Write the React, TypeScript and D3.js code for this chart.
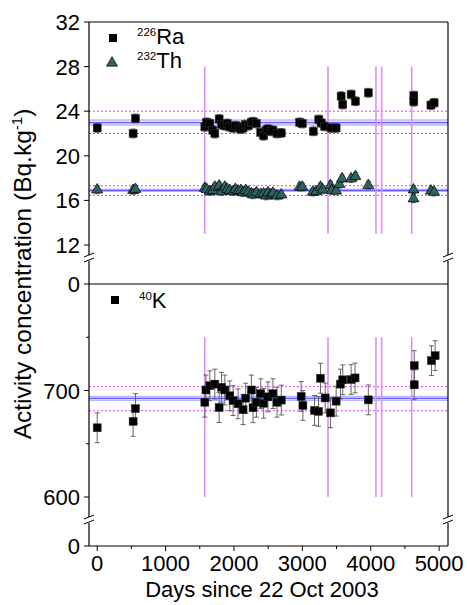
import React from 'react';
import * as d3 from 'd3';

// 226Ra
const raDays = [0, 525, 559, 1574, 1600, 1647, 1690, 1720, 1783, 1818, 1866, 1900, 1939, 1987, 2020, 2060, 2100, 2133, 2172, 2210, 2255, 2279, 2328, 2391, 2434, 2470, 2497, 2540, 2570, 2629, 2692, 2960, 3000, 3160, 3240, 3275, 3325, 3420, 3494, 3567, 3591, 3713, 3776, 3965, 4630, 4630, 4880, 4927];
const raVals = [22.5, 22.0, 23.35, 22.6, 23.0, 22.9, 22.3, 22.0, 23.3, 22.8, 22.7, 22.9, 22.6, 22.5, 22.7, 22.6, 22.4, 22.5, 22.8, 22.7, 23.0, 23.05, 22.9, 22.1, 21.8, 22.3, 22.4, 22.2, 22.3, 22.0, 22.05, 23.0, 22.9, 22.2, 23.25, 22.95, 22.65, 22.5, 22.5, 25.35, 24.6, 25.5, 24.9, 25.65, 25.4, 24.85, 24.55, 24.75];
const raErr = 0.4;

// 232Th
const thDays = [0, 525, 559, 1574, 1600, 1647, 1690, 1720, 1783, 1818, 1866, 1900, 1939, 1987, 2020, 2060, 2100, 2133, 2172, 2210, 2255, 2279, 2328, 2391, 2434, 2470, 2497, 2540, 2570, 2629, 2692, 2960, 3000, 3153, 3202, 3265, 3299, 3411, 3430, 3494, 3542, 3581, 3713, 3776, 3965, 4626, 4626, 4880, 4927];
const thVals = [16.95, 16.9, 17.0, 17.1, 17.0, 16.8, 16.9, 17.2, 17.3, 16.8, 17.2, 17.0, 16.9, 16.8, 17.0, 16.85, 16.9, 16.7, 16.9, 16.75, 16.6, 16.5, 16.7, 16.55, 16.6, 16.4, 16.7, 16.5, 16.65, 16.4, 16.5, 17.2, 17.2, 16.75, 16.8, 17.2, 16.95, 17.35, 16.9, 16.85, 17.45, 17.95, 17.95, 18.15, 17.35, 16.95, 16.15, 16.85, 16.75];
const thErr = 0.35;

// 40K
const kDays = [0, 525, 559, 1574, 1590, 1647, 1720, 1783, 1818, 1866, 1939, 1987, 2060, 2133, 2172, 2255, 2279, 2328, 2391, 2434, 2497, 2570, 2629, 2692, 2983, 3008, 3178, 3236, 3265, 3334, 3411, 3494, 3557, 3591, 3713, 3771, 3965, 4636, 4636, 4888, 4942];
const kVals = [665, 671, 683, 689, 700.5, 704.5, 706, 684, 703, 700.5, 695, 690.5, 687.5, 682, 692.8, 700.5, 683.8, 689, 697, 688, 694, 697, 689, 691, 694.4, 686, 681.3, 680.4, 711.5, 693, 679, 690, 706, 710, 710.3, 711.8, 691.2, 723.4, 705.3, 728, 732.7];
const kErr = 14;

// reference lines: [mean, bandLow, bandHigh, lowLimit, highLimit]
const raLines = [22.97, 22.75, 23.22, 22.0, 24.0];
const thLines = [16.9, 16.8, 17.0, 16.45, 17.32];
const kLines = [692.6, 690.7, 694.5, 681, 703.6];

const eventDays = [1572, 3375, 4077, 4160, 4599];

const xTicks = [0, 1000, 2000, 3000, 4000, 5000];
const topTicks = [12, 16, 20, 24, 28, 32];
const botTicks = [600, 700];
const botMinor = [650, 750];

const W = 467;
const H = 605;
const left = 89;
const right = 448;
const top = 22;
const mid = 284;
const bottom = 546;

const font = '"Liberation Sans", Arial, sans-serif';

export default function App() {
  const x = d3.scaleLinear().domain([-120, 5130]).range([left, right]);
  const yTop = d3.scaleLinear().domain([12, 32]).range([245, top]);
  const yBot = d3.scaleLinear().domain([600, 800]).range([497, mid]);

  const tri = d3.symbol(d3.symbolTriangle, 52)();

  const refLines = (lines: number[], y: d3.ScaleLinear<number, number>, key: string) => {
    const [m, lo, hi, l1, l2] = lines;
    return (
      <g key={key}>
        <rect x={left} width={right - left} y={y(hi)} height={y(lo) - y(hi)} fill="#d4d4ff" opacity={0.8} />
        <line x1={left} x2={right} y1={y(hi)} y2={y(hi)} stroke="#a0a0ff" strokeWidth={0.8} />
        <line x1={left} x2={right} y1={y(lo)} y2={y(lo)} stroke="#a0a0ff" strokeWidth={0.8} />
        <line x1={left} x2={right} y1={y(m)} y2={y(m)} stroke="#6a5cff" strokeWidth={1.3} />
        <line x1={left} x2={right} y1={y(l1)} y2={y(l1)} stroke="#e040f0" strokeWidth={1} strokeDasharray="2,2" />
        <line x1={left} x2={right} y1={y(l2)} y2={y(l2)} stroke="#e040f0" strokeWidth={1} strokeDasharray="2,2" />
      </g>
    );
  };

  const errBars = (days: number[], vals: number[], err: number, y: d3.ScaleLinear<number, number>, key: string) => (
    <g key={key} stroke="#555" strokeWidth={0.9}>
      {days.map((d, i) => (
        <g key={i}>
          <line x1={x(d)} x2={x(d)} y1={y(vals[i] - err)} y2={y(vals[i] + err)} />
          <line x1={x(d) - 2.5} x2={x(d) + 2.5} y1={y(vals[i] - err)} y2={y(vals[i] - err)} />
          <line x1={x(d) - 2.5} x2={x(d) + 2.5} y1={y(vals[i] + err)} y2={y(vals[i] + err)} />
        </g>
      ))}
    </g>
  );

  const breakMark = (cx: number, cy: number, key: string) => (
    <g key={key}>
      <rect x={cx - 5} y={cy - 3} width={10} height={6} fill="white" />
      <line x1={cx - 5} x2={cx + 5} y1={cy - 1} y2={cy - 5} stroke="#000" strokeWidth={1} />
      <line x1={cx - 5} x2={cx + 5} y1={cy + 4} y2={cy} stroke="#000" strokeWidth={1} />
    </g>
  );

  return (
    <svg width={W} height={H} style={{ position: 'absolute', left: 0, top: 0 }} fontFamily={font}>
      <rect width={W} height={H} fill="white" />

      {refLines(raLines, yTop, 'ra')}
      {refLines(thLines, yTop, 'th')}
      {refLines(kLines, yBot, 'k')}

      {eventDays.map((d) => (
        <g key={d} stroke="#dc8cff" strokeWidth={1.6}>
          <line x1={x(d)} x2={x(d)} y1={yTop(28)} y2={yTop(13)} />
          <line x1={x(d)} x2={x(d)} y1={yBot(750)} y2={yBot(600)} />
        </g>
      ))}

      {errBars(raDays, raVals, raErr, yTop, 'rae')}
      {errBars(thDays, thVals, thErr, yTop, 'the')}
      {errBars(kDays, kVals, kErr, yBot, 'ke')}

      {raDays.map((d, i) => (
        <rect key={'ra' + i} x={x(d) - 4} y={yTop(raVals[i]) - 4} width={8} height={8} fill="#000" stroke="#333" strokeWidth={0.5} />
      ))}
      {thDays.map((d, i) => (
        <path key={'th' + i} d={tri} transform={`translate(${x(d)},${yTop(thVals[i])})`} fill="#2f6363" stroke="#000" strokeWidth={0.7} />
      ))}
      {kDays.map((d, i) => (
        <rect key={'k' + i} x={x(d) - 4} y={yBot(kVals[i]) - 4} width={8} height={8} fill="#000" stroke="#333" strokeWidth={0.5} />
      ))}

      {/* frame */}
      <g stroke="#000" strokeWidth={1.2} fill="none">
        <line x1={left} x2={right} y1={top} y2={top} />
        <line x1={left} x2={right} y1={mid} y2={mid} />
        <line x1={left} x2={right} y1={bottom} y2={bottom} />
        <line x1={left} x2={left} y1={top} y2={bottom} />
        <line x1={right} x2={right} y1={top} y2={bottom} />
      </g>
      {breakMark(left, 258, 'b1')}
      {breakMark(left, 520, 'b2')}
      {breakMark(right, 258, 'b3')}
      {breakMark(right, 520, 'b4')}

      {/* y ticks */}
      <g fontSize={22} textAnchor="end" fill="#000">
        {topTicks.map((t) => (
          <g key={t}>
            <line x1={left - 5} x2={left} y1={yTop(t)} y2={yTop(t)} stroke="#000" />
            <text x={left - 9} y={yTop(t) + 8}>{t}</text>
          </g>
        ))}
        <line x1={left - 5} x2={left} y1={mid} y2={mid} stroke="#000" />
        <text x={left - 9} y={mid + 8}>0</text>
        {botTicks.map((t) => (
          <g key={t}>
            <line x1={left - 5} x2={left} y1={yBot(t)} y2={yBot(t)} stroke="#000" />
            <text x={left - 9} y={yBot(t) + 8}>{t}</text>
          </g>
        ))}
        {botMinor.map((t) => (
          <line key={t} x1={left - 3} x2={left} y1={yBot(t)} y2={yBot(t)} stroke="#000" />
        ))}
        <line x1={left - 5} x2={left} y1={bottom} y2={bottom} stroke="#000" />
        <text x={left - 9} y={bottom + 8}>0</text>
      </g>

      {/* x ticks */}
      <g fontSize={22} textAnchor="middle" fill="#000">
        {xTicks.map((t) => (
          <g key={t}>
            <line x1={x(t)} x2={x(t)} y1={bottom} y2={bottom + 5} stroke="#000" />
            <text x={x(t)} y={571}>{t}</text>
          </g>
        ))}
        {xTicks.slice(0, -1).map((t) => (
          <line key={'m' + t} x1={x(t + 500)} x2={x(t + 500)} y1={bottom} y2={bottom + 3} stroke="#000" />
        ))}
      </g>

      <text x={262} y={597} fontSize={22} textAnchor="middle">Days since 22 Oct 2003</text>
      <text transform="translate(31,274) rotate(-90)" fontSize={24.5} textAnchor="middle">
        Activity concentration (Bq.kg<tspan fontSize={15} dy={-9}>-1</tspan><tspan dy={9}>)</tspan>
      </text>

      {/* legends */}
      <rect x={109} y={34} width={8} height={8} fill="#000" />
      <text x={137} y={44} fontSize={22}>
        <tspan fontSize={11.5} dy={-8}>226</tspan><tspan dy={8}>Ra</tspan>
      </text>
      <path d={tri} transform="translate(112,63)" fill="#2f6363" stroke="#000" strokeWidth={0.7} />
      <text x={137} y={68} fontSize={22}>
        <tspan fontSize={11.5} dy={-8}>232</tspan><tspan dy={8}>Th</tspan>
      </text>
      <rect x={111} y={296} width={8} height={8} fill="#000" />
      <text x={139} y={308} fontSize={22}>
        <tspan fontSize={11.5} dy={-8}>40</tspan><tspan dy={8}>K</tspan>
      </text>
    </svg>
  );
}
